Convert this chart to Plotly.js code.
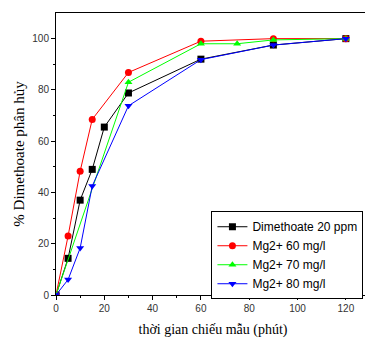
<!DOCTYPE html>
<html><head><meta charset="utf-8">
<script src="https://cdn.plot.ly/plotly-3.0.1.min.js"></script>
<style>html,body{margin:0;padding:0;overflow:hidden;background:#fff}#c{width:380px;height:338px}</style>
</head><body><div id="c"></div>
<script>
const timeBlack = [0, 5, 10, 15, 20, 30, 60, 90, 120];
const black = [0, 14.3, 37, 49, 65.5, 78.8, 92, 97.5, 100];
const timeRed = [0, 5, 10, 15, 30, 60, 90, 120];
const red = [0, 23, 48.3, 68.5, 86.8, 99, 100, 100];
const timeGreen = [0, 30, 60, 75, 90, 120];
const green = [0, 83, 98, 98, 99.5, 100];
const timeBlue = [0, 5, 10, 15, 30, 60, 90, 120];
const blue = [0, 6, 18.3, 42.5, 73.8, 91.8, 97.5, 100];
const names = ['Dimethoate 20 ppm', 'Mg2+ 60 mg/l', 'Mg2+ 70 mg/l', 'Mg2+ 80 mg/l'];
const xTitle = 'thời gian chiếu mẫu (phút)';
const yTitle = '% Dimethoate phân hủy';

function tr(x, y, name, color, symbol) {
  return {x: x, y: y, name: name, type: 'scatter', mode: 'lines+markers',
    line: {color: color, width: 1}, marker: {color: color, symbol: symbol, size: 7, line: {width: 0}}};
}
const data = [
  tr(timeBlack, black, names[0], '#000000', 'square'),
  tr(timeRed, red, names[1], '#ff0000', 'circle'),
  tr(timeGreen, green, names[2], '#00ff00', 'triangle-up'),
  tr(timeBlue, blue, names[3], '#0000ff', 'triangle-down')
];
const tickFont = {family: 'Liberation Sans, Arial, sans-serif', size: 10, color: '#333'};
const layout = {
  width: 380, height: 338,
  margin: {l: 56, r: 10, t: 13, b: 43},
  paper_bgcolor: '#fff', plot_bgcolor: '#fff',
  showlegend: true,
  legend: {x: 0.495, y: 0.297, xanchor: 'left', yanchor: 'top', bgcolor: '#fff', itemwidth: 30,
    bordercolor: '#000', borderwidth: 1, font: {family: 'Liberation Sans, Arial, sans-serif', size: 12, color: '#000'}},
  xaxis: {range: [0, 130], tickvals: [0, 20, 40, 60, 80, 100, 120], ticks: 'outside', ticklen: 4,
    tickcolor: '#000', showline: true, linecolor: '#000', linewidth: 1, mirror: true, showgrid: false, zeroline: false,
    tickfont: tickFont,
    minor: {tickvals: [10, 30, 50, 70, 90, 110], ticks: 'outside', ticklen: 2, tickcolor: '#000', showgrid: false},
    title: {text: xTitle, font: {family: 'Liberation Serif, Times New Roman, serif', size: 14, color: '#000'}, standoff: 12}},
  yaxis: {range: [0, 110], tickvals: [0, 20, 40, 60, 80, 100], ticks: 'outside', ticklen: 4,
    tickcolor: '#000', showline: true, linecolor: '#000', linewidth: 1, mirror: true, showgrid: false, zeroline: false,
    tickfont: tickFont,
    minor: {tickvals: [10, 30, 50, 70, 90], ticks: 'outside', ticklen: 2, tickcolor: '#000', showgrid: false},
    title: {text: yTitle, font: {family: 'Liberation Serif, Times New Roman, serif', size: 15, color: '#000'}, standoff: 4}}
};
Plotly.newPlot('c', data, layout, {displayModeBar: false, staticPlot: true});
</script></body></html>
